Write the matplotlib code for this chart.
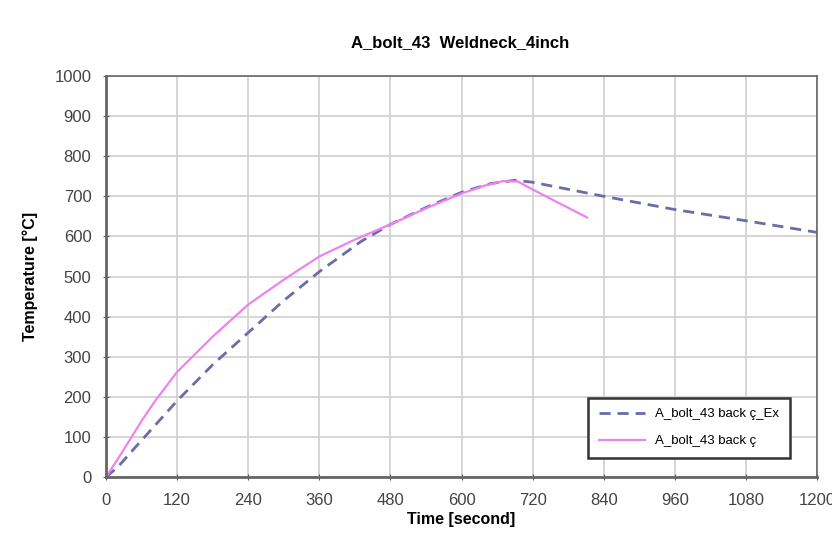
import matplotlib.pyplot as plt

# data
time_ex = [0, 20, 50, 120, 180, 240, 300, 360, 430, 480, 540, 600, 650, 690,
           720, 840, 960, 1080, 1200]
temp_ex = [0, 25, 75, 190, 280, 360, 440, 512, 587, 630, 672, 710, 732, 740,
           735, 700, 667, 639, 610]

time_sim = [0, 20, 40, 60, 83, 120, 180, 240, 300, 360, 420, 480, 540, 600, 640, 670,
            695, 720, 812]
temp_sim = [0, 45, 92, 140, 190, 262, 350, 430, 492, 550, 592, 630, 670, 707, 727, 738,
            737, 717, 647]

x_ticks = list(range(0, 1201, 120))
y_ticks = list(range(0, 1001, 100))

plt.rcParams['font.family'] = ['Liberation Sans', 'DejaVu Sans']

fig = plt.figure(figsize=(8.32, 5.34), dpi=100)
ax = fig.add_axes([0.1274, 0.1067, 0.8546, 0.751])

ax.plot(time_ex, temp_ex, color='#6b6ba8', linestyle=(0, (4, 2.5)), linewidth=2.0,
        label='A_bolt_43 back \u00e7_Ex')
ax.plot(time_sim, temp_sim, color='#ee82ee', linewidth=1.6,
        label='A_bolt_43 back \u00e7')

ax.set_xlim(0, 1200)
ax.set_ylim(0, 1000)
ax.set_xticks(x_ticks)
ax.set_yticks(y_ticks)
ax.grid(True, color='#d0d0d0', linewidth=1.2)
ax.set_axisbelow(True)
ax.tick_params(direction='inout', length=5, colors='#555555', labelsize=12,
               labelcolor='#444444')
ax.tick_params(axis='x', pad=9)
ax.tick_params(axis='y', pad=8)
for s in ax.spines.values():
    s.set_color('#666666')
    s.set_linewidth(1.2)
ax.spines['left'].set_linewidth(2)
ax.spines['bottom'].set_linewidth(2)

ax.set_xlabel('Time [second]', fontweight='bold', fontsize=11.5, labelpad=3)
ax.set_ylabel('Temperature [\u00b0C]', fontweight='bold', fontsize=11.5, labelpad=12)
fig.text(0.553, 0.92, 'A_bolt_43  Weldneck_4inch', ha='center', va='center',
         fontweight='bold', fontsize=12)

leg = ax.legend(loc='lower right', bbox_to_anchor=(0.962, 0.048), fontsize=9.5,
                fancybox=False, framealpha=1, edgecolor='#333333',
                handlelength=3.5, borderpad=0.8, labelspacing=1.1,
                borderaxespad=0)
leg.get_frame().set_linewidth(1.8)

fig.savefig('out.png', dpi=100)
